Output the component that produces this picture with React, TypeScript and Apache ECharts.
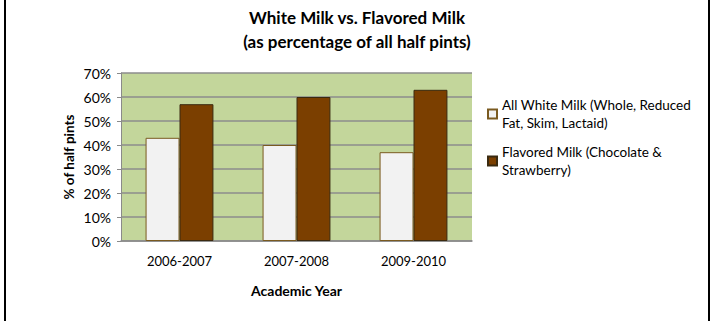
import React, { useEffect, useRef } from "react";
import * as echarts from "echarts";

const categories = ["2006-2007", "2007-2008", "2009-2010"];
const whiteMilk = [43, 40, 37];
const flavoredMilk = [57, 60, 63];
const seriesNames = [
  "All White Milk (Whole, Reduced Fat, Skim, Lactaid)",
  "Flavored Milk (Chocolate & Strawberry)",
];
const legendLines: Record<string, string> = {
  [seriesNames[0]]: "All White Milk (Whole, Reduced\nFat, Skim, Lactaid)",
  [seriesNames[1]]: "Flavored Milk (Chocolate &\nStrawberry)",
};

const FONT = "Lato, 'Open Sans', sans-serif";

export default function App() {
  const ref = useRef<HTMLDivElement>(null);
  useEffect(() => {
    if (!ref.current) return;
    const chart = echarts.init(ref.current, undefined, { renderer: "svg" });
    chart.setOption({
      animation: false,
      backgroundColor: "#ffffff",
      textStyle: { fontFamily: FONT },
      title: {
        text: "White Milk vs. Flavored Milk\n(as percentage of all half pints)",
        left: "center",
        top: 0,
        textStyle: {
          fontFamily: FONT,
          fontSize: 17,
          fontWeight: "bold",
          color: "#000",
          lineHeight: 24,
        },
      },
      graphic: [
        { type: "line", shape: { x1: 5, y1: 0, x2: 5, y2: 321 }, style: { stroke: "#000", lineWidth: 2 } },
        { type: "line", shape: { x1: 709, y1: 0, x2: 709, y2: 321 }, style: { stroke: "#000", lineWidth: 2 } },
      ],
      grid: {
        left: 121,
        right: 242,
        top: 73,
        bottom: 80,
        show: true,
        backgroundColor: "#c3d69b",
        borderWidth: 0,
      },
      legend: {
        orient: "vertical",
        left: 482,
        top: 91,
        itemWidth: 9,
        itemHeight: 9,
        itemGap: 11,
        icon: "rect",
        formatter: (name: string) => legendLines[name] || name,
        textStyle: { fontFamily: FONT, fontSize: 13.5, color: "#000", lineHeight: 18 },
      },
      xAxis: {
        type: "category",
        data: categories,
        name: "Academic Year",
        nameLocation: "middle",
        nameGap: 42,
        nameTextStyle: { fontFamily: FONT, fontSize: 14, fontWeight: "bold", color: "#000" },
        axisLine: { lineStyle: { color: "#8a8a8a", width: 1.5 } },
        axisTick: { show: false },
        axisLabel: { fontFamily: FONT, fontSize: 13, color: "#000", margin: 13 },
      },
      yAxis: {
        type: "value",
        min: 0,
        max: 70,
        interval: 10,
        name: "% of half pints",
        nameLocation: "middle",
        nameGap: 45,
        nameRotate: 90,
        nameTextStyle: { fontFamily: FONT, fontSize: 13.5, fontWeight: "bold", color: "#000" },
        axisLine: { show: true, lineStyle: { color: "#8a8a8a", width: 1 } },
        axisTick: { show: true, length: 4, lineStyle: { color: "#8a8a8a" } },
        axisLabel: { formatter: "{value}%", fontFamily: FONT, fontSize: 14, color: "#000", margin: 10 },
        splitLine: { lineStyle: { color: "#8c8c8c", width: 1.5 } },
      },
      series: [
        {
          name: seriesNames[0],
          type: "bar",
          data: whiteMilk,
          barGap: "0%",
          barCategoryGap: "42%",
          itemStyle: { color: "#f2f2f2", borderColor: "#7a5a20", borderWidth: 1 },
        },
        {
          name: seriesNames[1],
          type: "bar",
          data: flavoredMilk,
          barGap: "0%",
          barCategoryGap: "42%",
          itemStyle: { color: "#7b3f00", borderColor: "#3a2a10", borderWidth: 1 },
        },
      ],
    });
    return () => chart.dispose();
  }, []);
  return (
    <div
      ref={ref}
      style={{ position: "fixed", left: 0, top: 0, width: 714, height: 321 }}
    />
  );
}
